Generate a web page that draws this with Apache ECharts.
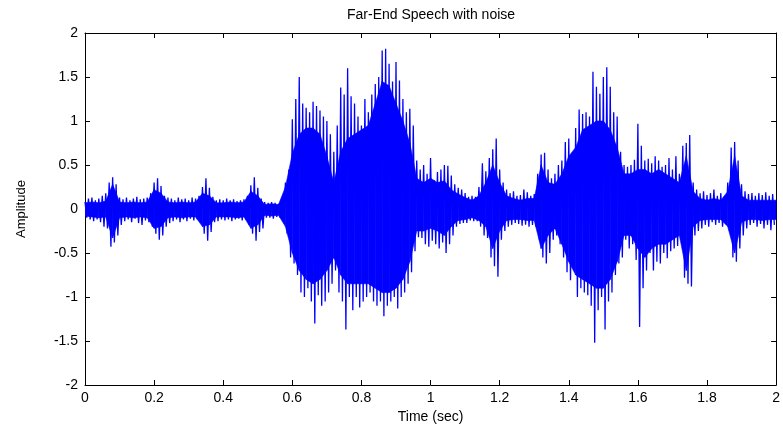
<!DOCTYPE html>
<html>
<head>
<meta charset="utf-8">
<title>Far-End Speech with noise</title>
<script src="https://cdn.jsdelivr.net/npm/echarts@6/dist/echarts.min.js"></script>
<style>
  html, body { margin: 0; padding: 0; background: #fff; }
  #chart { width: 783px; height: 430px; }
</style>
</head>
<body>
<div id="chart"></div>
<script>
// spacing of the spike readings (sec)
const step = 0.01
// spacing of the solid-core readings (sec)
const coreStep = 0.02

// upper peaks of the waveform, one reading every 0.01 s from t = 0
const hiEnv = [
  0.08, 0.12, 0.13, 0.10, 0.12, 0.15, 0.18, 0.30, 0.36, 0.28,
  0.13, 0.11, 0.13, 0.10, 0.12, 0.14, 0.11, 0.12, 0.13, 0.18,
  0.30, 0.35, 0.26, 0.15, 0.13, 0.12, 0.10, 0.13, 0.11, 0.12,
  0.10, 0.13, 0.12, 0.15, 0.25, 0.35, 0.24, 0.14, 0.10, 0.11,
  0.10, 0.12, 0.10, 0.11, 0.09, 0.10, 0.11, 0.15, 0.27, 0.36,
  0.24, 0.12, 0.08, 0.07, 0.08, 0.07, 0.06, 0.08, 0.30, 0.45,
  1.02, 1.25, 1.50, 1.20, 1.15, 1.10, 1.22, 1.17, 1.12, 1.05,
  1.00, 0.85, 0.65, 0.95, 1.38, 1.30, 1.60, 1.28, 1.20, 1.05,
  0.95, 1.25, 1.10, 1.30, 1.42, 1.50, 1.80, 1.82, 1.65, 1.45,
  1.67, 1.46, 1.25, 1.10, 1.14, 0.95, 0.55, 0.45, 0.50, 0.40,
  0.58, 0.33, 0.42, 0.45, 0.50, 0.49, 0.38, 0.28, 0.24, 0.22,
  0.18, 0.14, 0.15, 0.14, 0.25, 0.52, 0.43, 0.58, 0.68, 0.80,
  0.45, 0.30, 0.22, 0.18, 0.20, 0.15, 0.16, 0.22, 0.19, 0.15,
  0.17, 0.40, 0.62, 0.64, 0.45, 0.35, 0.40, 0.50, 0.55, 0.76,
  0.80, 0.60, 0.92, 1.13, 1.08, 1.10, 1.05, 1.56, 1.39, 1.31,
  1.50, 1.61, 1.39, 1.10, 1.05, 0.65, 0.50, 0.48, 0.50, 0.56,
  0.97, 0.72, 0.55, 0.57, 0.52, 0.60, 0.55, 0.48, 0.50, 0.58,
  0.45, 0.60, 0.40, 0.72, 0.75, 0.84, 0.30, 0.22, 0.18, 0.20,
  0.16, 0.18, 0.22, 0.15, 0.18, 0.14, 0.30, 0.70, 0.76, 0.55,
  0.28, 0.20, 0.17, 0.18, 0.15, 0.18, 0.16, 0.19, 0.15, 0.17
]

// lower peaks, same time grid
const loEnv = [
  -0.10, -0.12, -0.14, -0.12, -0.15, -0.20, -0.22, -0.43, -0.38, -0.30,
  -0.18, -0.14, -0.12, -0.15, -0.11, -0.16, -0.18, -0.13, -0.15, -0.20,
  -0.28, -0.35, -0.30, -0.20, -0.16, -0.14, -0.12, -0.15, -0.12, -0.14,
  -0.11, -0.13, -0.12, -0.15, -0.28, -0.36, -0.26, -0.15, -0.14, -0.12,
  -0.13, -0.12, -0.14, -0.12, -0.11, -0.13, -0.12, -0.18, -0.28, -0.36,
  -0.26, -0.22, -0.10, -0.10, -0.11, -0.09, -0.10, -0.12, -0.28, -0.55,
  -0.62, -0.75, -0.95, -1.00, -0.90, -1.05, -1.30, -0.98, -1.10, -1.05,
  -0.95, -0.85, -0.70, -0.95, -1.05, -1.37, -1.00, -1.15, -1.00, -1.12,
  -1.05, -1.00, -0.95, -1.05, -1.10, -1.05, -1.22, -1.10, -1.05, -1.00,
  -1.13, -1.00, -0.95, -0.85, -0.72, -0.48, -0.32, -0.33, -0.40, -0.43,
  -0.36, -0.40, -0.45, -0.38, -0.50, -0.40, -0.30, -0.20, -0.17, -0.16,
  -0.16, -0.13, -0.14, -0.14, -0.20, -0.30, -0.33, -0.55, -0.65, -0.77,
  -0.35, -0.25, -0.20, -0.18, -0.16, -0.17, -0.19, -0.18, -0.20, -0.18,
  -0.20, -0.35, -0.55, -0.62, -0.50, -0.35, -0.30, -0.40, -0.55, -0.72,
  -0.81, -0.65, -1.00, -0.90, -0.95, -0.98, -1.10, -1.52, -1.15, -1.00,
  -1.37, -1.05, -0.95, -0.75, -0.62, -0.55, -0.35, -0.45, -0.40, -0.58,
  -1.34, -0.90, -0.70, -0.50, -0.70, -0.60, -0.62, -0.50, -0.56, -0.48,
  -0.45, -0.42, -0.35, -0.78, -0.85, -0.88, -0.30, -0.25, -0.22, -0.18,
  -0.20, -0.15, -0.18, -0.16, -0.20, -0.17, -0.25, -0.55, -0.60, -0.45,
  -0.30, -0.22, -0.18, -0.16, -0.20, -0.17, -0.22, -0.18, -0.24, -0.18
]

// top of the solid blue core, one reading every 0.02 s from t = 0 to 2
const coreHi = [
  0.07, 0.08, 0.07, 0.09, 0.28, 0.08, 0.07, 0.08, 0.07, 0.08,
  0.22, 0.18, 0.08, 0.07, 0.08, 0.07, 0.08, 0.18, 0.15, 0.07,
  0.07, 0.08, 0.07, 0.08, 0.20, 0.15, 0.05, 0.06, 0.05, 0.25,
  0.63, 0.85, 0.92, 0.92, 0.85, 0.60, 0.30, 0.65, 0.80, 0.85,
  0.90, 0.95, 1.20, 1.45, 1.40, 1.20, 1.00, 0.75, 0.35, 0.30,
  0.35, 0.30, 0.32, 0.22, 0.17, 0.13, 0.10, 0.15, 0.30, 0.50,
  0.30, 0.15, 0.12, 0.10, 0.12, 0.12, 0.50, 0.30, 0.28, 0.40,
  0.60, 0.70, 0.90, 0.95, 1.00, 1.00, 0.90, 0.70, 0.40, 0.40,
  0.45, 0.45, 0.40, 0.45, 0.40, 0.35, 0.30, 0.60, 0.20, 0.12,
  0.10, 0.12, 0.10, 0.20, 0.60, 0.15, 0.10, 0.10, 0.10, 0.10,
  0.10
]

// bottom of the solid blue core, same grid
const coreLo = [
  -0.08, -0.09, -0.10, -0.09, -0.33, -0.10, -0.09, -0.10, -0.09, -0.10,
  -0.22, -0.20, -0.10, -0.09, -0.10, -0.09, -0.09, -0.20, -0.18, -0.09,
  -0.09, -0.09, -0.10, -0.09, -0.22, -0.18, -0.07, -0.08, -0.07, -0.20,
  -0.50, -0.70, -0.80, -0.85, -0.80, -0.70, -0.55, -0.75, -0.85, -0.85,
  -0.85, -0.85, -0.90, -0.95, -0.95, -0.90, -0.80, -0.60, -0.25, -0.25,
  -0.22, -0.25, -0.30, -0.20, -0.13, -0.12, -0.10, -0.13, -0.20, -0.45,
  -0.25, -0.13, -0.12, -0.12, -0.13, -0.13, -0.45, -0.30, -0.22, -0.40,
  -0.60, -0.75, -0.80, -0.85, -0.90, -0.90, -0.80, -0.60, -0.30, -0.30,
  -0.45, -0.55, -0.45, -0.40, -0.40, -0.35, -0.30, -0.70, -0.20, -0.13,
  -0.12, -0.12, -0.12, -0.20, -0.50, -0.15, -0.12, -0.12, -0.13, -0.12,
  -0.12
]

const xTickLabels = ['0', '0.2', '0.4', '0.6', '0.8', '1', '1.2', '1.4', '1.6', '1.8', '2']
const yTickLabels = ['-2', '-1.5', '-1', '-0.5', '0', '0.5', '1', '1.5', '2']

// zigzag between upper and lower peaks gives the thin spikes
const wave = []
hiEnv.forEach((hi, i) => {
  wave.push([i * step, hi])
  wave.push([i * step + step / 2, loEnv[i]])
})

// core band pieces: [t0, lo0, hi0, t1, lo1, hi1] between neighbouring readings
const coreSegs = []
for (let i = 0; i < coreHi.length - 1; i++) {
  coreSegs.push([i * coreStep, coreLo[i], coreHi[i], (i + 1) * coreStep, coreLo[i + 1], coreHi[i + 1]])
}

const font = 'Liberation Sans, Arial, Helvetica, sans-serif'
const black = '#000'
const blue = '#0000ff'

const boxAxis = {
  axisLine: { show: true, onZero: false, lineStyle: { color: black, width: 1 } },
  axisTick: { show: true, inside: true, length: 5, lineStyle: { color: black } },
  splitLine: { show: false }
}

const renderCore = (params, api) => {
  const pts = [
    api.coord([api.value(0), api.value(2)]),
    api.coord([api.value(3), api.value(5)]),
    api.coord([api.value(3), api.value(4)]),
    api.coord([api.value(0), api.value(1)])
  ]
  return {
    type: 'polygon',
    shape: { points: pts },
    style: { fill: blue, stroke: blue, lineWidth: 0.6 }
  }
}

const chart = echarts.init(document.getElementById('chart'), null, { renderer: 'canvas' })

chart.setOption({
  animation: false,
  backgroundColor: '#fff',
  title: {
    text: 'Far-End Speech with noise',
    left: 347,
    top: 8,
    padding: 0,
    textStyle: { fontFamily: font, fontSize: 14, fontWeight: 'normal', color: black }
  },
  grid: { left: 85, right: 6, top: 33, bottom: 45, containLabel: false },
  xAxis: [
    {
      ...boxAxis,
      type: 'value',
      position: 'bottom',
      min: 0,
      max: 2,
      interval: 0.2,
      name: 'Time (sec)',
      nameLocation: 'middle',
      nameGap: 23,
      nameTextStyle: { fontFamily: font, fontSize: 14, color: black },
      axisLabel: {
        margin: 6,
        fontFamily: font,
        fontSize: 14,
        color: black,
        formatter: v => xTickLabels[Math.round(v / 0.2)]
      }
    },
    {
      ...boxAxis,
      type: 'value',
      position: 'top',
      min: 0,
      max: 2,
      interval: 0.2,
      axisLabel: { show: false }
    }
  ],
  yAxis: [
    {
      ...boxAxis,
      type: 'value',
      position: 'left',
      min: -2,
      max: 2,
      interval: 0.5,
      name: 'Amplitude',
      nameLocation: 'middle',
      nameGap: 57,
      nameTextStyle: { fontFamily: font, fontSize: 13, color: black },
      axisLabel: {
        margin: 7,
        fontFamily: font,
        fontSize: 14,
        color: black,
        formatter: v => yTickLabels[Math.round((v + 2) / 0.5)]
      }
    },
    {
      ...boxAxis,
      type: 'value',
      position: 'right',
      min: -2,
      max: 2,
      interval: 0.5,
      axisLabel: { show: false }
    }
  ],
  series: [
    {
      type: 'custom',
      data: coreSegs,
      encode: { x: [0, 3], y: [1, 2, 4, 5] },
      renderItem: renderCore,
      silent: true,
      clip: true
    },
    {
      type: 'line',
      data: wave,
      symbol: 'none',
      lineStyle: { color: blue, width: 1.3 },
      clip: true
    }
  ]
})
</script>
</body>
</html>
